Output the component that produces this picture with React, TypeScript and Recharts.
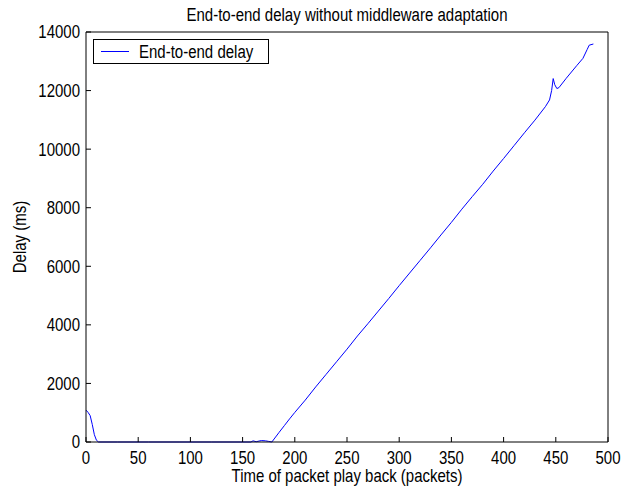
import React from 'react';
import { LineChart, Line, XAxis, YAxis } from 'recharts';

// packet index (x) and end-to-end delay in ms (y)
const packets = [
  0, 2, 4, 6, 8, 10, 12, 30, 60, 90, 120, 150, 158, 160, 163, 168, 172, 175, 178,
  185, 190, 195, 200, 210, 220, 230, 240, 250, 260, 270, 280, 290, 300, 310, 320,
  330, 340, 350, 360, 370, 380, 390, 400, 410, 420, 430, 440, 444, 446, 447.5, 449,
  451, 453, 460, 470, 476, 480, 482, 486,
];
const delays = [
  1090, 1010, 900, 600, 250, 60, 0, 0, 0, 0, 0, 0, 0, 40, 10, 50, 40, 20, 0,
  330, 560, 790, 1010, 1430, 1880, 2310, 2740, 3170, 3620, 4040, 4470, 4900, 5340, 5770, 6200,
  6630, 7070, 7500, 7950, 8380, 8800, 9250, 9680, 10120, 10560, 10990, 11450, 11680, 12000, 12410, 12200,
  12070, 12100, 12420, 12850, 13100, 13400, 13550, 13590,
];
const xTicks = [0, 50, 100, 150, 200, 250, 300, 350, 400, 450, 500];
const yTicks = [0, 2000, 4000, 6000, 8000, 10000, 12000, 14000];

const TITLE = 'End-to-end delay without middleware adaptation';
const SERIES = 'End-to-end delay';
const X_LABEL = 'Time of packet play back (packets)';
const Y_LABEL = 'Delay (ms)';

const FONT = '"Liberation Sans", Arial, sans-serif';
const FS = 15;
const STRETCH = 1.2; // the original text is a bit taller than it is wide

const data = packets.map((p, i) => ({ packet: p, delay: delays[i] }));

// svg text, stretched vertically like the screenshot's font
function StretchText({ x, y, rotate = 0, anchor = 'middle', dy = '0', children }: any) {
  return (
    <text
      transform={`translate(${x},${y}) rotate(${rotate}) scale(1,${STRETCH})`}
      textAnchor={anchor}
      dy={dy}
      fill="#000"
      fontSize={FS}
      fontFamily={FONT}
    >
      {children}
    </text>
  );
}

function XTick({ x, y, payload }: any) {
  return <StretchText x={x} y={y} dy="0.71em">{payload.value}</StretchText>;
}

function YTick({ x, y, payload }: any) {
  return <StretchText x={x} y={y} anchor="end" dy="0.355em">{payload.value}</StretchText>;
}

function XLabel({ viewBox }: any) {
  return <StretchText x={viewBox.x + viewBox.width / 2} y={viewBox.y + 40}>{X_LABEL}</StretchText>;
}

function YLabel({ viewBox }: any) {
  return (
    <StretchText x={viewBox.x + 20} y={viewBox.y + viewBox.height / 2} rotate={-90} dy="0.355em">
      {Y_LABEL}
    </StretchText>
  );
}

export default function App() {
  return (
    <div style={{ position: 'absolute', left: 0, top: 0, width: 622, height: 490, background: '#fff' }}>
      <div
        style={{
          position: 'absolute',
          left: 86,
          width: 522,
          top: 4,
          textAlign: 'center',
          fontFamily: FONT,
          fontSize: FS,
          lineHeight: '17px',
          color: '#000',
          transform: `scaleY(${STRETCH})`,
          transformOrigin: 'top',
        }}
      >
        {TITLE}
      </div>
      <LineChart width={622} height={490} data={data} margin={{ top: 31, right: 13, bottom: 0, left: 0 }}>
        <XAxis
          dataKey="packet"
          type="number"
          domain={[0, 500]}
          ticks={xTicks}
          height={48}
          tickSize={-5}
          tickMargin={14}
          stroke="#000"
          tick={<XTick />}
          label={<XLabel />}
        />
        <XAxis xAxisId="top" orientation="top" type="number" domain={[0, 500]} ticks={xTicks} height={1} tickSize={-5} tick={false} stroke="#000" />
        <YAxis
          type="number"
          domain={[0, 14000]}
          ticks={yTicks}
          width={86}
          tickSize={-5}
          tickMargin={11}
          stroke="#000"
          tick={<YTick />}
          label={<YLabel />}
        />
        <YAxis yAxisId="right" orientation="right" type="number" domain={[0, 14000]} ticks={yTicks} width={1} tickSize={-5} tick={false} stroke="#000" />
        <Line
          type="linear"
          dataKey="delay"
          name={SERIES}
          stroke="#0000ff"
          strokeWidth={1}
          dot={false}
          isAnimationActive={false}
        />
      </LineChart>
      {/* legend box, top-left inside the axes */}
      <div
        style={{
          position: 'absolute',
          left: 93,
          top: 39,
          width: 174,
          height: 23,
          border: '1px solid #000',
          background: '#fff',
          display: 'flex',
          alignItems: 'center',
          fontFamily: FONT,
          fontSize: FS,
          color: '#000',
        }}
      >
        <div style={{ width: 28, height: 1, background: '#0000ff', marginLeft: 7, marginRight: 10, flexShrink: 0 }} />
        <span style={{ display: 'inline-block', transform: `scaleY(${STRETCH})`, whiteSpace: 'nowrap' }}>{SERIES}</span>
      </div>
    </div>
  );
}
